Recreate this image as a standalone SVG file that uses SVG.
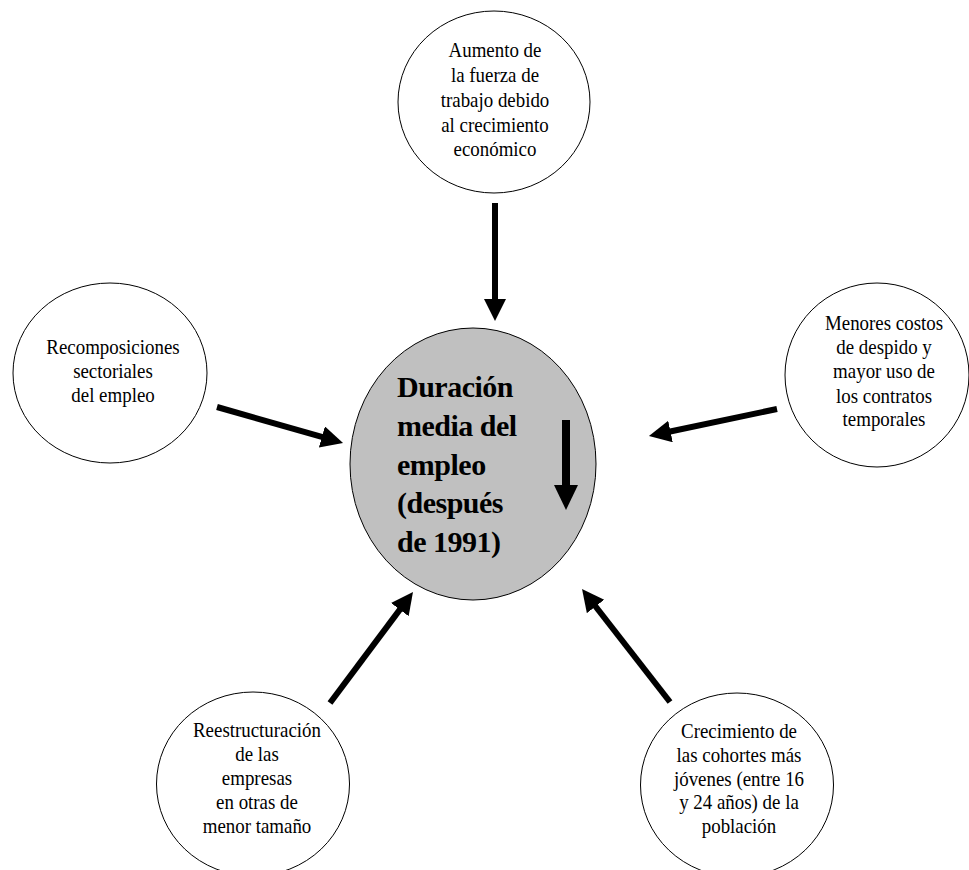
<svg xmlns="http://www.w3.org/2000/svg" width="969" height="870" viewBox="0 0 969 870">
<style>
.c{fill:#ffffff;stroke:#000;stroke-width:1}
.cc{fill:#c0c0c0;stroke:#000;stroke-width:1}
.t{font-family:"Liberation Serif","Times New Roman",serif;font-size:21px;fill:#000;text-anchor:middle}
.b{font-family:"Liberation Serif","Times New Roman",serif;font-size:30px;font-weight:bold;fill:#000;letter-spacing:-0.5px}
.a{stroke:#000;stroke-width:6;fill:none;marker-end:url(#ah)}
</style>
<defs>
<marker id="ah" markerUnits="userSpaceOnUse" markerWidth="24" markerHeight="24" refX="10" refY="11" orient="auto">
<path d="M0,0 L22,11 L0,22 z" fill="#000"/>
</marker>
<marker id="ah2" markerUnits="userSpaceOnUse" markerWidth="28" markerHeight="28" refX="12" refY="12" orient="auto">
<path d="M0,0 L25,12 L0,24 z" fill="#000"/>
</marker>
</defs>
<g id="top">
<ellipse class="c" cx="494" cy="102" rx="96" ry="91"/>
<text class="t" transform="translate(495,0) scale(0.9,1)"><tspan x="0" y="57">Aumento de</tspan><tspan x="0" y="82">la fuerza de</tspan><tspan x="0" y="107">trabajo debido</tspan><tspan x="0" y="132">al crecimiento</tspan><tspan x="0" y="156">económico</tspan></text>
</g>
<g id="left">
<ellipse class="c" cx="110" cy="373" rx="97" ry="90"/>
<text class="t" transform="translate(113,0) scale(0.9,1)"><tspan x="0" y="354">Recomposiciones</tspan><tspan x="0" y="378">sectoriales</tspan><tspan x="0" y="402">del empleo</tspan></text>
</g>
<g id="right">
<ellipse class="c" cx="877" cy="375" rx="92" ry="92"/>
<text class="t" transform="translate(884,0) scale(0.9,1)"><tspan x="0" y="330">Menores costos</tspan><tspan x="0" y="354">de despido y</tspan><tspan x="0" y="378">mayor uso de</tspan><tspan x="0" y="403">los contratos</tspan><tspan x="0" y="426">temporales</tspan></text>
</g>
<g id="bottomleft">
<ellipse class="c" cx="253" cy="784" rx="96.5" ry="92"/>
<text class="t" transform="translate(257,0) scale(0.9,1)"><tspan x="0" y="737">Reestructuración</tspan><tspan x="0" y="761">de las</tspan><tspan x="0" y="785">empresas</tspan><tspan x="0" y="809">en otras de</tspan><tspan x="0" y="833">menor tamaño</tspan></text>
</g>
<g id="bottomright">
<ellipse class="c" cx="737" cy="785" rx="96.5" ry="92"/>
<text class="t" transform="translate(739,0) scale(0.9,1)"><tspan x="0" y="738">Crecimiento de</tspan><tspan x="0" y="762">las cohortes más</tspan><tspan x="0" y="786">jóvenes (entre 16</tspan><tspan x="0" y="809">y 24 años) de la</tspan><tspan x="0" y="833">población</tspan></text>
</g>
<g id="center">
<ellipse class="cc" cx="473" cy="464" rx="123" ry="136"/>
<text class="b"><tspan x="397" y="397">Duración</tspan><tspan x="397" y="436">media del</tspan><tspan x="397" y="475">empleo</tspan><tspan x="397" y="513">(después</tspan><tspan x="397" y="552">de 1991)</tspan></text>
<line x1="566" y1="420" x2="566" y2="497" stroke="#000" stroke-width="8" marker-end="url(#ah2)"/>
</g>
<g id="connectors">
<line class="a" x1="495" y1="203" x2="495" y2="309"/>
<line class="a" x1="217" y1="407" x2="331.5" y2="439.7"/>
<line class="a" x1="777" y1="409" x2="660.7" y2="433.5"/>
<line class="a" x1="330" y1="703" x2="405.8" y2="601.6"/>
<line class="a" x1="670" y1="702" x2="589.4" y2="598.5"/>
</g>
</svg>
